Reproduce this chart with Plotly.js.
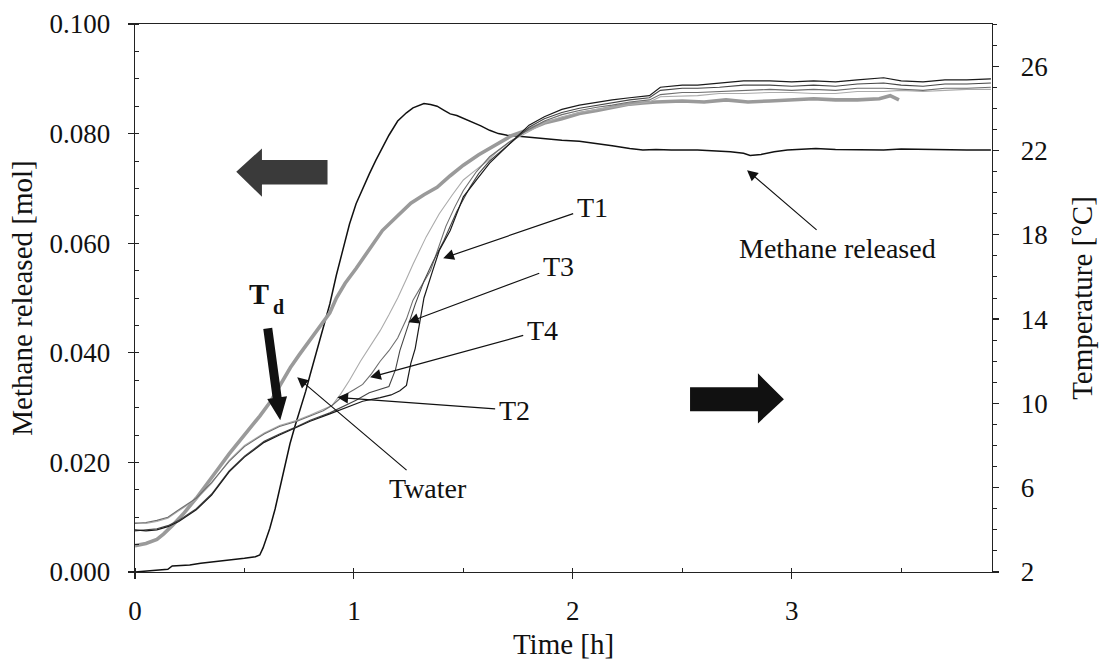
<!DOCTYPE html>
<html>
<head>
<meta charset="utf-8">
<script src="https://cdn.plot.ly/plotly-3.0.1.min.js"></script>
<style>html,body{margin:0;padding:0;background:#fff;}#chart{width:1102px;height:665px;}</style>
</head>
<body>
<div id="chart"></div>
<script>
// ---- Methane released (left axis, mol) ----
const methaneTime = [0.00,0.05,0.10,0.15,0.17,0.25,0.30,0.35,0.40,0.45,0.50,0.55,0.57,0.585,0.60,0.616,0.64,0.662,0.685,0.708,0.73,0.753,0.78,0.80,0.83,0.86,0.89,0.92,0.95,0.98,1.01,1.04,1.07,1.10,1.13,1.16,1.20,1.24,1.27,1.30,1.32,1.35,1.38,1.41,1.44,1.47,1.50,1.54,1.58,1.62,1.66,1.70,1.75,1.80,1.87,1.95,2.03,2.11,2.18,2.26,2.32,2.38,2.45,2.57,2.65,2.72,2.78,2.81,2.86,2.92,2.98,3.05,3.11,3.20,3.30,3.42,3.50,3.60,3.70,3.80,3.91];
const methaneMol = [0.0000,0.0002,0.0004,0.0005,0.0011,0.0013,0.0016,0.0018,0.0021,0.0023,0.0025,0.0028,0.0031,0.0044,0.0060,0.0080,0.0115,0.0153,0.0195,0.0234,0.0265,0.0294,0.0330,0.0360,0.0403,0.0445,0.0489,0.0542,0.0591,0.0635,0.0672,0.0700,0.0726,0.0751,0.0774,0.0797,0.0823,0.0838,0.0847,0.0852,0.0855,0.0853,0.0850,0.0843,0.0836,0.0833,0.0828,0.0820,0.0814,0.0806,0.0800,0.0797,0.0795,0.0793,0.0791,0.0788,0.0786,0.0782,0.0778,0.0773,0.0770,0.0771,0.0770,0.0770,0.0768,0.0767,0.0764,0.0760,0.0762,0.0767,0.0770,0.0772,0.0773,0.0771,0.0770,0.0770,0.0772,0.0771,0.0771,0.0770,0.0770];

// ---- Temperatures (right axis, °C) ----
const twaterTime = [0.00,0.05,0.10,0.13,0.17,0.22,0.28,0.34,0.38,0.43,0.48,0.53,0.57,0.62,0.66,0.71,0.75,0.80,0.85,0.89,0.92,0.96,1.01,1.07,1.13,1.20,1.26,1.32,1.38,1.44,1.50,1.57,1.65,1.72,1.80,1.87,1.95,2.03,2.11,2.18,2.26,2.32,2.38,2.50,2.60,2.70,2.80,2.90,3.00,3.10,3.20,3.30,3.40,3.45,3.49];
const twaterTemp = [3.25,3.35,3.55,3.80,4.20,4.75,5.50,6.30,6.90,7.60,8.25,8.85,9.40,10.10,10.85,11.70,12.30,13.00,13.70,14.30,15.00,15.70,16.40,17.30,18.20,18.90,19.50,19.90,20.25,20.80,21.30,21.80,22.30,22.70,23.00,23.30,23.50,23.75,23.90,24.05,24.20,24.25,24.30,24.35,24.30,24.40,24.30,24.35,24.40,24.45,24.40,24.40,24.45,24.60,24.40];

const t2Time = [0.00,0.05,0.10,0.15,0.20,0.28,0.35,0.43,0.50,0.59,0.66,0.74,0.80,0.86,0.90,0.94,0.98,1.03,1.08,1.12,1.16,1.20,1.24,1.27,1.33,1.39,1.45,1.50,1.56,1.61,1.66,1.71,1.80,1.87,1.95,2.03,2.11,2.18,2.26,2.35,2.40,2.50,2.57,2.67,2.78,2.90,3.00,3.10,3.20,3.30,3.42,3.50,3.60,3.70,3.80,3.91];
const t2Temp = [4.35,4.30,4.40,4.55,4.90,5.45,6.20,7.30,8.00,8.60,8.95,9.20,9.45,9.70,9.90,10.45,11.10,12.00,12.80,13.45,14.20,15.00,15.90,16.60,17.90,19.00,19.90,20.60,21.10,21.50,22.00,22.40,22.90,23.30,23.60,23.80,23.95,24.05,24.20,24.30,24.55,24.60,24.60,24.70,24.70,24.75,24.75,24.70,24.70,24.80,24.80,24.85,24.80,24.85,24.90,24.90];

const t4Time = [0.00,0.05,0.10,0.15,0.20,0.28,0.35,0.43,0.50,0.59,0.66,0.74,0.80,0.86,0.90,0.95,1.00,1.04,1.08,1.12,1.16,1.20,1.24,1.27,1.31,1.35,1.42,1.46,1.50,1.56,1.62,1.71,1.80,1.87,1.95,2.03,2.11,2.18,2.26,2.35,2.40,2.50,2.57,2.67,2.78,2.90,3.00,3.10,3.20,3.30,3.42,3.50,3.60,3.70,3.80,3.91];
const t4Temp = [4.30,4.35,4.45,4.60,4.95,5.50,6.25,7.25,7.95,8.55,8.90,9.15,9.40,9.65,9.90,10.35,10.65,10.90,11.40,12.00,12.50,13.10,14.00,14.90,15.60,16.30,18.40,19.30,20.10,21.00,21.70,22.40,23.00,23.40,23.70,23.90,24.05,24.15,24.30,24.40,24.65,24.75,24.75,24.80,24.85,24.90,24.85,24.90,24.85,24.95,24.95,24.90,24.85,24.95,24.95,25.00];

const t3Time = [0.00,0.05,0.10,0.15,0.20,0.28,0.35,0.43,0.50,0.59,0.66,0.74,0.80,0.89,0.95,1.01,1.07,1.12,1.16,1.19,1.21,1.24,1.28,1.32,1.36,1.41,1.47,1.53,1.57,1.62,1.71,1.80,1.87,1.95,2.03,2.11,2.18,2.26,2.35,2.40,2.50,2.57,2.67,2.78,2.90,3.00,3.10,3.20,3.30,3.42,3.50,3.60,3.70,3.80,3.91];
const t3Temp = [3.95,4.00,4.05,4.20,4.45,5.00,5.70,6.80,7.50,8.20,8.55,8.90,9.20,9.55,9.85,10.15,10.50,10.65,10.80,11.60,12.50,13.45,14.70,15.80,16.70,17.70,19.10,20.25,20.90,21.50,22.30,23.10,23.50,23.80,24.00,24.15,24.25,24.40,24.50,24.85,24.95,24.95,25.00,25.10,25.10,25.05,25.10,25.05,25.15,25.20,25.10,25.05,25.15,25.15,25.20];

const t1Time = [0.00,0.05,0.10,0.15,0.20,0.28,0.35,0.43,0.50,0.59,0.66,0.74,0.80,0.89,0.95,1.04,1.12,1.17,1.21,1.24,1.26,1.28,1.30,1.32,1.36,1.39,1.44,1.50,1.56,1.62,1.71,1.80,1.87,1.95,2.03,2.11,2.18,2.26,2.35,2.40,2.50,2.57,2.67,2.78,2.90,3.00,3.10,3.20,3.30,3.42,3.50,3.60,3.70,3.80,3.91];
const t1Temp = [4.00,3.95,4.00,4.15,4.40,4.95,5.65,6.75,7.45,8.15,8.50,8.85,9.15,9.50,9.75,10.10,10.27,10.40,10.60,10.85,11.90,12.60,13.80,15.00,16.30,17.25,18.20,19.80,20.60,21.40,22.30,23.20,23.60,23.95,24.15,24.30,24.40,24.50,24.60,25.00,25.10,25.10,25.20,25.30,25.30,25.25,25.30,25.25,25.35,25.45,25.30,25.25,25.35,25.35,25.40];

// ---- Axis ticks ----
const xTickVals = [0, 1, 2, 3];
const xTickText = ['0', '1', '2', '3'];
const yLeftTickVals = [0, 0.02, 0.04, 0.06, 0.08, 0.1];
const yLeftTickText = ['0.000', '0.020', '0.040', '0.060', '0.080', '0.100'];
const yRightTickVals = [2, 6, 10, 14, 18, 22, 26];
const yRightTickText = ['2', '6', '10', '14', '18', '22', '26'];

// ---- Label texts ----
const xTitle = 'Time [h]';
const yLeftTitle = 'Methane released [mol]';
const yRightTitle = 'Temperature [°C]';

const FONT = 'Liberation Serif, Times New Roman, serif';

const traces = [
  {x: twaterTime, y: twaterTemp, yaxis: 'y2', mode: 'lines', name: 'Twater',
   line: {color: '#9a9a9a', width: 3.6}},
  {x: t2Time, y: t2Temp, yaxis: 'y2', mode: 'lines', name: 'T2',
   line: {color: '#ababab', width: 1.1}},
  {x: t4Time, y: t4Temp, yaxis: 'y2', mode: 'lines', name: 'T4',
   line: {color: '#6e6e6e', width: 1.1}},
  {x: t3Time, y: t3Temp, yaxis: 'y2', mode: 'lines', name: 'T3',
   line: {color: '#454545', width: 1.1}},
  {x: t1Time, y: t1Temp, yaxis: 'y2', mode: 'lines', name: 'T1',
   line: {color: '#1a1a1a', width: 1.2}},
  {x: methaneTime, y: methaneMol, yaxis: 'y', mode: 'lines', name: 'Methane released',
   line: {color: '#111', width: 1.5}}
];

// Labelled arrow: text centred at (xText, yText), arrow drawn from the text box to the tip.
function pointer(txt, xTip, yTip, xText, yText) {
  return {x: xTip, y: yTip, xref: 'x', yref: 'y', ax: xText, ay: yText, axref: 'x', ayref: 'y',
          text: txt, showarrow: true, arrowhead: 2, arrowsize: 1.8, arrowwidth: 1.2,
          arrowcolor: '#111', standoff: 0, startstandoff: 2,
          font: {family: FONT, size: 28, color: '#111'}};
}

const annotations = [
  pointer('T1', 1.408, 0.05726, 2.088, 0.06658),
  pointer('T3', 1.248, 0.04557, 1.933, 0.05580),
  pointer('T4', 1.074, 0.03553, 1.860, 0.04411),
  pointer('T2', 0.924, 0.03187, 1.732, 0.02950),
  pointer('Twater', 0.741, 0.03553, 1.339, 0.01525),
  pointer('Methane released', 2.796, 0.07333, 3.211, 0.05909),
  {x: 0.617, y: 0.0508, xref: 'x', yref: 'y', text: '<b>T</b>', showarrow: false, borderpad: 0,
   font: {family: FONT, size: 30, color: '#111'}, xanchor: 'right', yanchor: 'middle'},
  {x: 0.624, y: 0.0484, xref: 'x', yref: 'y', text: '<b>d</b>', showarrow: false, borderpad: 0,
   font: {family: FONT, size: 20, color: '#111'}, xanchor: 'left', yanchor: 'middle'}
];

const shapes = [
  // Left block arrow (methane -> left axis)
  {type: 'path', xref: 'x', yref: 'y', fillcolor: '#3a3a3a', line: {width: 0},
   path: 'M0.4626,0.07302 L0.5799,0.07730 L0.5799,0.07516 L0.8795,0.07516 L0.8795,0.07072 L0.5799,0.07072 L0.5799,0.06846 Z'},
  // Right block arrow (temperatures -> right axis)
  {type: 'path', xref: 'x', yref: 'y', fillcolor: '#111', line: {width: 0},
   path: 'M2.9644,0.03151 L2.8457,0.03626 L2.8457,0.03370 L2.5356,0.03370 L2.5356,0.02932 L2.8457,0.02932 L2.8457,0.02712 Z'},
  // Td arrow
  {type: 'path', xref: 'x', yref: 'y', fillcolor: '#111', line: {width: 0},
   path: 'M0.5860,0.04436 L0.6268,0.04459 L0.6697,0.03195 L0.6946,0.03208 L0.6635,0.02767 L0.6041,0.03159 L0.6289,0.03172 Z'}
];

const axisCommon = {
  showgrid: false, zeroline: false, showline: true, linecolor: '#222', linewidth: 1.3,
  tickcolor: '#222', tickwidth: 1.2, ticklen: 6, ticks: 'outside',
  tickfont: {family: FONT, size: 27, color: '#111'}
};

const layout = {
  width: 1102, height: 665,
  margin: {l: 135, r: 110, t: 24, b: 93},
  paper_bgcolor: '#fff', plot_bgcolor: '#fff',
  showlegend: false,
  font: {family: FONT, color: '#111'},
  xaxis: Object.assign({}, axisCommon, {
    range: [0, 3.915], tickvals: xTickVals, ticktext: xTickText, mirror: true,
    ticklabelstandoff: 8,
    minor: {dtick: 0.5, tick0: 0, ticks: 'inside', ticklen: 4, tickcolor: '#222', tickwidth: 1},
    title: {text: xTitle, font: {family: FONT, size: 29, color: '#111'}, standoff: 9}
  }),
  yaxis: Object.assign({}, axisCommon, {
    range: [0, 0.1], tickvals: yLeftTickVals, ticktext: yLeftTickText,
    ticklabelstandoff: 12,
    minor: {dtick: 0.005, tick0: 0, ticks: 'inside', ticklen: 4, tickcolor: '#222', tickwidth: 1},
    title: {text: yLeftTitle, font: {family: FONT, size: 29, color: '#111'}, standoff: 8}
  }),
  yaxis2: Object.assign({}, axisCommon, {
    overlaying: 'y', side: 'right', range: [2, 28],
    tickvals: yRightTickVals, ticktext: yRightTickText,
    ticklabelstandoff: 16,
    minor: {dtick: 1, tick0: 2, ticks: 'outside', ticklen: 4, tickcolor: '#222', tickwidth: 1},
    title: {text: yRightTitle, font: {family: FONT, size: 29, color: '#111'}, standoff: 24}
  }),
  annotations: annotations,
  shapes: shapes
};

Plotly.newPlot('chart', traces, layout, {displayModeBar: false, staticPlot: true});
</script>
</body>
</html>
